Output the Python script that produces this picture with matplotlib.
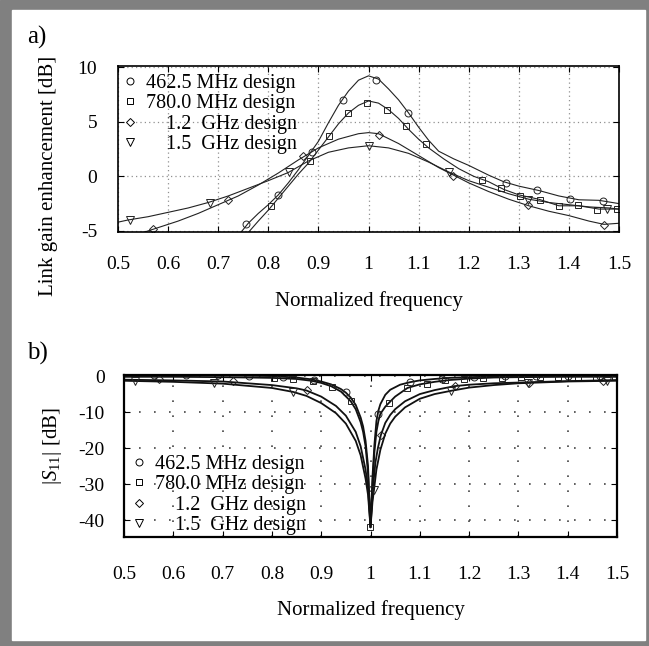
import numpy as np
import matplotlib.pyplot as plt
from matplotlib.lines import Line2D
from matplotlib.patches import Rectangle

plt.rcParams['font.family'] = ['Liberation Serif', 'DejaVu Serif']
plt.rcParams['mathtext.fontset'] = 'custom'
plt.rcParams['mathtext.rm'] = 'Liberation Serif'
plt.rcParams['mathtext.it'] = 'Liberation Serif:italic'
plt.rcParams['axes.unicode_minus'] = False

labels = ['462.5 MHz design', '780.0 MHz design', '    1.2  GHz design', '    1.5  GHz design']
marks = ['o', 's', 'D', 'v']
msizes = [5, 4.5, 4.5, 5.5]
xticks = [0.5, 0.6, 0.7, 0.8, 0.9, 1.0, 1.1, 1.2, 1.3, 1.4, 1.5]
xticklabels = ['0.5', '0.6', '0.7', '0.8', '0.9', '1', '1.1', '1.2', '1.3', '1.4', '1.5']

# a) link gain enhancement [dB]
ga_x1 = [0.745, 0.76, 0.78, 0.80, 0.82, 0.84, 0.86, 0.88, 0.90, 0.92, 0.94, 0.96, 0.98, 1.00, 1.02,
         1.04, 1.06, 1.08, 1.10, 1.12, 1.14, 1.17, 1.20, 1.24, 1.27, 1.30, 1.34, 1.38, 1.42, 1.46, 1.50]
ga_y1 = [-5.15, -4.3, -3.4, -2.6, -1.7, -0.6, 0.6, 1.9, 3.2, 4.9, 6.5, 7.8, 8.8, 9.2, 8.9,
         8.0, 7.0, 5.8, 4.5, 3.3, 2.3, 1.6, 1.0, 0.1, -0.5, -0.9, -1.3, -1.8, -2.15, -2.2, -2.5]
ga_x2 = [0.76, 0.78, 0.80, 0.82, 0.84, 0.86, 0.88, 0.90, 0.92, 0.94, 0.96, 0.98, 1.00, 1.02, 1.04,
         1.06, 1.08, 1.10, 1.12, 1.15, 1.18, 1.21, 1.24, 1.27, 1.30, 1.34, 1.38, 1.42, 1.46, 1.50]
ga_y2 = [-5.15, -4.1, -3.1, -2.0, -0.9, 0.2, 1.2, 2.4, 3.6, 4.8, 5.8, 6.5, 6.9, 6.7, 6.1,
         5.3, 4.3, 3.4, 2.6, 1.6, 0.7, 0.0, -0.5, -1.2, -1.7, -2.1, -2.7, -2.7, -3.0, -3.0]
ga_x3 = [0.55, 0.58, 0.62, 0.66, 0.70, 0.74, 0.78, 0.82, 0.86, 0.90, 0.94, 0.98, 1.00, 1.02, 1.06,
         1.10, 1.14, 1.17, 1.20, 1.24, 1.28, 1.32, 1.36, 1.40, 1.44, 1.47, 1.50]
ga_y3 = [-5.15, -4.7, -4.1, -3.4, -2.6, -1.8, -0.8, 0.3, 1.5, 2.6, 3.4, 3.9, 4.0, 3.9, 3.0,
         1.9, 0.8, 0.1, -0.6, -1.4, -2.1, -2.7, -3.2, -3.6, -4.1, -4.4, -4.3]
ga_x4 = [0.50, 0.52, 0.56, 0.60, 0.64, 0.68, 0.72, 0.76, 0.80, 0.84, 0.88, 0.92, 0.96, 1.00, 1.04,
         1.08, 1.12, 1.16, 1.20, 1.24, 1.28, 1.32, 1.36, 1.40, 1.44, 1.48, 1.50]
ga_y4 = [-4.2, -4.0, -3.7, -3.3, -2.9, -2.4, -1.8, -1.1, -0.4, 0.35, 1.4, 2.2, 2.6, 2.8, 2.6,
         2.1, 1.3, 0.4, -0.4, -1.0, -1.6, -2.1, -2.4, -2.6, -2.8, -2.9, -3.0]

ga_mx1 = [0.755, 0.820, 0.888, 0.949, 1.014, 1.079, 1.274, 1.337, 1.403, 1.468]
ga_my1 = [-4.39, -1.67, 2.27, 7.03, 8.79, 5.82, -0.58, -1.24, -2.05, -2.25]
ga_mx2 = [0.805, 0.883, 0.921, 0.959, 0.998, 1.036, 1.074, 1.114, 1.227, 1.265, 1.303, 1.343,
          1.381, 1.419, 1.457, 1.496]
ga_my2 = [-2.73, 1.36, 3.73, 5.76, 6.73, 6.09, 4.58, 2.94, -0.33, -1.1, -1.76, -2.15,
          -2.7, -2.67, -3.06, -2.97]
ga_mx3 = [0.569, 0.719, 0.869, 1.020, 1.169, 1.319, 1.471]
ga_my3 = [-4.85, -2.21, 1.82, 3.79, 0.06, -2.6, -4.45]
ga_mx4 = [0.523, 0.683, 0.841, 1.0, 1.16, 1.318, 1.477]
ga_my4 = [-4.03, -2.42, 0.36, 2.76, 0.35, -2.15, -2.95]

# b) |S11| [dB]
s_x1 = [0.50, 0.60, 0.70, 0.80, 0.85, 0.88, 0.90, 0.92, 0.94, 0.95, 0.96, 0.97, 0.98, 0.985, 0.99,
        0.995, 1.000, 1.004, 1.008, 1.012, 1.016, 1.02, 1.03, 1.04, 1.06, 1.08, 1.10, 1.13, 1.16,
        1.20, 1.25, 1.30, 1.40, 1.50]
s_y1 = [0.3, 0.3, 0.2, 0.0, -0.4, -0.9, -1.5, -2.3, -3.6, -4.6, -6.0, -8.0, -11.5, -14, -18,
        -25, -42, -28, -19, -12.5, -9.6, -7.8, -5.2, -3.8, -2.4, -1.7, -1.2, -0.8, -0.5,
        -0.3, -0.1, 0.0, 0.1, 0.1]
s_x2 = [0.50, 0.60, 0.70, 0.80, 0.85, 0.88, 0.90, 0.92, 0.94, 0.96, 0.97, 0.98, 0.985, 0.99, 0.995,
        1.000, 1.004, 1.008, 1.012, 1.016, 1.02, 1.03, 1.037, 1.05, 1.075, 1.10, 1.13, 1.16, 1.20,
        1.25, 1.30, 1.40, 1.50]
s_y2 = [-0.2, -0.2, -0.3, -0.5, -0.8, -1.3, -1.9, -2.8, -4.3, -7.0, -9.2, -12.8, -15.5, -19.5, -27,
        -42, -30, -21, -15.5, -12.5, -10.5, -8.5, -7.5, -5.7, -3.3, -2.3, -1.6, -1.1, -0.7,
        -0.4, -0.3, -0.2, -0.2]
s_x3 = [0.50, 0.60, 0.70, 0.80, 0.85, 0.87, 0.90, 0.93, 0.95, 0.97, 0.98, 0.99, 0.995, 1.000, 1.005,
        1.01, 1.015, 1.021, 1.03, 1.04, 1.05, 1.07, 1.10, 1.13, 1.17, 1.20, 1.25, 1.30, 1.40, 1.50]
s_y3 = [-1.0, -1.2, -1.5, -2.5, -3.4, -4.0, -5.7, -8.3, -11.0, -15.5, -19.5, -26, -31, -42, -31,
        -24, -20, -16.4, -13, -10.8, -9.2, -7.0, -5.0, -3.9, -2.8, -2.4, -2.0, -1.8, -1.4, -1.1]
s_x4 = [0.50, 0.60, 0.70, 0.80, 0.843, 0.87, 0.90, 0.93, 0.95, 0.97, 0.98, 0.99, 0.995, 1.000, 1.004,
        1.007, 1.012, 1.02, 1.03, 1.04, 1.05, 1.07, 1.10, 1.13, 1.163, 1.20, 1.25, 1.30, 1.40, 1.50]
s_y4 = [-1.3, -1.6, -2.1, -3.3, -4.4, -5.5, -7.5, -10.3, -13.2, -18, -22, -28.5, -33, -42, -35,
        -31.7, -26, -20.5, -16, -13.2, -11.3, -8.7, -6.3, -5.0, -4.1, -3.2, -2.5, -2.0, -1.5, -1.3]

s_mx1 = [0.561, 0.626, 0.690, 0.754, 0.822, 0.885, 0.950, 1.015, 1.080, 1.145, 1.210, 1.272,
         1.335, 1.400, 1.465]
s_my1 = [0.3, 0.3, 0.2, 0.1, -0.2, -1.0, -4.5, -10.5, -1.7, -0.7, -0.3, -0.1, 0.0, 0.1, 0.1]
s_mx2 = [0.805, 0.843, 0.884, 0.922, 0.960, 0.998, 1.037, 1.075, 1.114, 1.152, 1.190, 1.228,
         1.267, 1.305, 1.343, 1.381, 1.42, 1.458, 1.496]
s_my2 = [-0.5, -0.8, -1.4, -2.9, -7.0, -42, -7.5, -3.3, -2.1, -1.2, -0.7, -0.5,
         -0.4, -0.3, -0.3, -0.2, -0.2, -0.2, -0.2]
s_mx3 = [0.570, 0.721, 0.871, 1.021, 1.171, 1.322, 1.472]
s_my3 = [-0.9, -1.4, -4.0, -16.4, -2.8, -1.9, -1.3]
s_mx4 = [0.523, 0.683, 0.843, 1.007, 1.163, 1.32, 1.48]
s_my4 = [-1.4, -2.0, -4.4, -31.7, -4.1, -1.9, -1.3]

fig = plt.figure(figsize=(6.49, 6.46), dpi=100)
fig.patches.append(Rectangle((0, 0), 1, 1, transform=fig.transFigure, color='#808080', zorder=-10))
fig.patches.append(Rectangle((12/649, 6/646), 633/649, 630/646, transform=fig.transFigure,
                             color='white', zorder=-9))

ax1 = fig.add_axes([118/649, 1 - 232/646, 501/649, 166/646])
ax2 = fig.add_axes([124/649, 1 - 537/646, 493/649, 162/646])


def style(ax, lw, grid_ls, grid_c, grid_lw, xpad, ypad, xlpad):
    ax.set_xlim(0.5, 1.5)
    ax.set_xticks(xticks)
    ax.set_xticklabels(xticklabels)
    ax.tick_params(direction='in', top=True, right=True, length=4, width=0.8, labelsize=14)
    ax.tick_params(axis='x', pad=xpad)
    ax.tick_params(axis='y', pad=ypad)
    ax.grid(True, ls=grid_ls, color=grid_c, lw=grid_lw)
    for s in ax.spines.values():
        s.set_linewidth(lw)
    ax.set_xlabel('Normalized frequency', fontsize=15, labelpad=xlpad)


def legend(ax, loc, anchor):
    hs = [Line2D([], [], ls='none', marker=m, ms=ms, mfc='white', mec='k', mew=0.7)
          for m, ms in zip(marks, msizes)]
    ax.legend(hs, labels, loc=loc, bbox_to_anchor=anchor, frameon=False, fontsize=14.5,
              borderaxespad=0, borderpad=0, handlelength=0.8, handletextpad=0.4,
              labelspacing=0.07)


# top panel
curves_a = [(ga_x1, ga_y1, ga_mx1, ga_my1), (ga_x2, ga_y2, ga_mx2, ga_my2),
            (ga_x3, ga_y3, ga_mx3, ga_my3), (ga_x4, ga_y4, ga_mx4, ga_my4)]
for (x, y, mx, my), m, ms in zip(curves_a, marks, msizes):
    ax1.plot(x, y, color='#222222', lw=0.8)
    ax1.plot(mx, my, ls='none', marker=m, ms=ms, mfc='none', mec='#222222', mew=0.7)
style(ax1, 1.2, (0, (1, 2.5)), '#909090', 0.9, 17, 15, 13)
ax1.set_ylim(-5.1, 10.1)
ax1.set_yticks([-5, 0, 5, 10])
legend(ax1, 'upper left', (0.008, 0.955))

# bottom panel
curves_b = [(s_x1, s_y1, s_mx1, s_my1), (s_x2, s_y2, s_mx2, s_my2),
            (s_x3, s_y3, s_mx3, s_my3), (s_x4, s_y4, s_mx4, s_my4)]
for (x, y, mx, my), m, ms in zip(curves_b, marks, msizes):
    ax2.plot(x, y, color='#111111', lw=1.3)
    ax2.plot(mx, my, ls='none', marker=m, ms=ms, mfc='none', mec='#222222', mew=0.7)
style(ax2, 1.6, (0, (1, 8)), '#444444', 1.2, 21, 14, 12)
ax2.set_ylim(-44.7, 0.3)
ax2.set_yticks([-40, -30, -20, -10, 0])
legend(ax2, 'lower left', (0.014, 0.01))

fig.text(48/649, 1 - 176/646, 'Link gain enhancement [dB]', fontsize=15, rotation=90,
         ha='center', va='center')
fig.text(52/649, 1 - 446/646, '$|S_{11}|$ [dB]', fontsize=15, rotation=90,
         ha='center', va='center')
fig.text(37/649, 1 - 37/646, 'a)', fontsize=18, ha='center', va='center')
fig.text(37/649, 1 - 353/646, 'b)', fontsize=18, ha='center', va='center')

fig.savefig('out.png', dpi=100)
